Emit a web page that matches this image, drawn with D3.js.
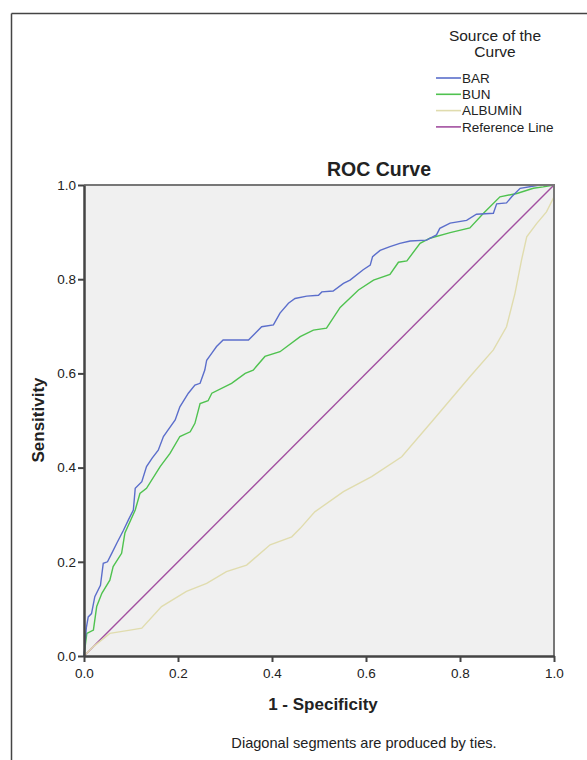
<!DOCTYPE html>
<html>
<head>
<meta charset="utf-8">
<script src="https://cdn.jsdelivr.net/npm/d3@7"></script>
<style>
  body { margin: 0; background: #fff; }
  svg text { font-family: "Liberation Sans", Arial, sans-serif; fill: #222; }
</style>
</head>
<body>
<div id="vis-container"></div>
<script>
// width and height
const w = 587
const h = 760
const margin = {left: 84, right: 33, top: 185, bottom: 104}

// ROC curves (1 - specificity, sensitivity)
const barX = [0, 0.005, 0.009, 0.016, 0.023, 0.035, 0.041, 0.05, 0.059, 0.07, 0.084, 0.095, 0.105, 0.109, 0.123, 0.133, 0.145, 0.158, 0.169, 0.176, 0.194, 0.204, 0.222, 0.236, 0.247, 0.257, 0.261, 0.272, 0.282, 0.296, 0.35, 0.378, 0.403, 0.417, 0.435, 0.449, 0.474, 0.499, 0.506, 0.53, 0.552, 0.566, 0.594, 0.609, 0.614, 0.63, 0.651, 0.672, 0.694, 0.729, 0.75, 0.757, 0.779, 0.814, 0.835, 0.871, 0.878, 0.899, 0.91, 0.928, 0.97, 1]
const barY = [0, 0.06, 0.083, 0.09, 0.126, 0.15, 0.197, 0.2, 0.218, 0.24, 0.267, 0.29, 0.31, 0.356, 0.37, 0.402, 0.42, 0.437, 0.466, 0.476, 0.501, 0.529, 0.558, 0.575, 0.579, 0.607, 0.628, 0.643, 0.657, 0.671, 0.671, 0.699, 0.703, 0.728, 0.749, 0.759, 0.764, 0.766, 0.773, 0.775, 0.791, 0.798, 0.82, 0.83, 0.848, 0.861, 0.869, 0.876, 0.881, 0.883, 0.894, 0.908, 0.919, 0.925, 0.938, 0.94, 0.96, 0.962, 0.975, 0.993, 1, 1]

const bunX = [0, 0.006, 0.02, 0.027, 0.038, 0.055, 0.062, 0.08, 0.087, 0.109, 0.119, 0.133, 0.162, 0.183, 0.204, 0.226, 0.236, 0.247, 0.264, 0.272, 0.314, 0.343, 0.36, 0.385, 0.417, 0.46, 0.488, 0.516, 0.545, 0.584, 0.616, 0.651, 0.669, 0.687, 0.715, 0.736, 0.779, 0.821, 0.85, 0.885, 0.921, 0.956, 0.977, 1]
const bunY = [0, 0.048, 0.055, 0.105, 0.133, 0.161, 0.19, 0.218, 0.261, 0.31, 0.345, 0.356, 0.402, 0.43, 0.466, 0.476, 0.494, 0.536, 0.542, 0.558, 0.579, 0.6, 0.607, 0.636, 0.646, 0.678, 0.692, 0.696, 0.74, 0.777, 0.798, 0.81, 0.836, 0.839, 0.876, 0.887, 0.899, 0.909, 0.94, 0.975, 0.982, 0.993, 0.996, 1]

const albX = [0, 0.02, 0.055, 0.098, 0.123, 0.165, 0.218, 0.261, 0.303, 0.346, 0.396, 0.442, 0.46, 0.491, 0.552, 0.612, 0.676, 0.743, 0.821, 0.871, 0.899, 0.917, 0.931, 0.942, 0.963, 0.984, 1, 1]
const albY = [0, 0.02, 0.048, 0.055, 0.059, 0.105, 0.137, 0.154, 0.179, 0.193, 0.236, 0.253, 0.271, 0.306, 0.349, 0.381, 0.423, 0.501, 0.593, 0.65, 0.699, 0.77, 0.841, 0.89, 0.918, 0.943, 0.975, 1]

const refX = [0, 1]
const refY = [0, 1]

const seriesNames = ["BAR", "BUN", "ALBUMİN", "Reference Line"]
const seriesColors = ["#5b6ecb", "#4fc24f", "#e0dcae", "#a24fa0"]
const tickValues = [0, 0.2, 0.4, 0.6, 0.8, 1.0]

const svg = d3.select("#vis-container")
    .append("svg")
    .attr("width", w)
    .attr("height", h)

// outer frame (only top and left visible)
svg.append("line").attr("x1", 11.5).attr("x2", w).attr("y1", 13.5).attr("y2", 13.5)
    .attr("stroke", "#444").attr("stroke-width", 1.5)
svg.append("line").attr("x1", 11.5).attr("x2", 11.5).attr("y1", 13.5).attr("y2", h)
    .attr("stroke", "#444").attr("stroke-width", 1.5)

// scale function
const xScale = d3.scaleLinear().domain([0, 1]).range([margin.left, w - margin.right])
const yScale = d3.scaleLinear().domain([0, 1]).range([h - margin.bottom, margin.top])

// plot background
svg.append("rect")
    .attr("x", xScale(0)).attr("y", yScale(1))
    .attr("width", xScale(1) - xScale(0))
    .attr("height", yScale(0) - yScale(1))
    .attr("fill", "#f0f0f0")

const line = d3.line().x(d => xScale(d[0])).y(d => yScale(d[1]))

const curves = [
    d3.zip(barX, barY),
    d3.zip(bunX, bunY),
    d3.zip(albX, albY),
    d3.zip(refX, refY)
]

// draw in reverse so BAR sits on top
const drawOrder = [3, 2, 1, 0]
drawOrder.forEach(i => {
    svg.append("path")
        .datum(curves[i])
        .attr("fill", "none")
        .attr("stroke", seriesColors[i])
        .attr("stroke-width", 1.4)
        .attr("d", line)
})

// plot border top / right
svg.append("path")
    .attr("d", `M${xScale(0)},${yScale(1)}H${xScale(1)}V${yScale(0)}`)
    .attr("fill", "none").attr("stroke", "#777").attr("stroke-width", 2)

const fmt = d3.format(".1f")

// x axis
const xAxis = svg.append("g")
    .attr("transform", "translate(0," + yScale(0) + ")")
    .call(d3.axisBottom(xScale).tickValues(tickValues).tickFormat(fmt).tickSize(6).tickSizeOuter(0))
xAxis.select(".domain").attr("stroke", "#444").attr("stroke-width", 2.5)
xAxis.selectAll(".tick line").attr("stroke", "#444").attr("stroke-width", 2)
xAxis.selectAll(".tick text").attr("font-size", 13.5).attr("dy", "0.95em").style("fill", "#222")

// y axis
const yAxis = svg.append("g")
    .attr("transform", "translate(" + xScale(0) + ",0)")
    .call(d3.axisLeft(yScale).tickValues(tickValues).tickFormat(fmt).tickSize(6).tickSizeOuter(0))
yAxis.select(".domain").attr("stroke", "#444").attr("stroke-width", 2.5)
yAxis.selectAll(".tick line").attr("stroke", "#444").attr("stroke-width", 2)
yAxis.selectAll(".tick text").attr("font-size", 13.5).attr("x", -8).style("fill", "#222")

// title
svg.append("text")
    .attr("x", 379)
    .attr("y", 176)
    .attr("text-anchor", "middle")
    .attr("font-size", 19.5)
    .attr("font-weight", "bold")
    .text("ROC Curve")

// axis labels
svg.append("text")
    .attr("x", 323)
    .attr("y", 710)
    .attr("text-anchor", "middle")
    .attr("font-size", 17)
    .attr("font-weight", "bold")
    .text("1 - Specificity")

svg.append("text")
    .attr("transform", "translate(44,420) rotate(-90)")
    .attr("text-anchor", "middle")
    .attr("font-size", 17)
    .attr("font-weight", "bold")
    .text("Sensitivity")

// footnote
svg.append("text")
    .attr("x", 364)
    .attr("y", 748)
    .attr("text-anchor", "middle")
    .attr("font-size", 14.6)
    .text("Diagonal segments are produced by ties.")

// legend
svg.append("text")
    .attr("x", 495).attr("y", 41)
    .attr("text-anchor", "middle").attr("font-size", 15.5)
    .text("Source of the")
svg.append("text")
    .attr("x", 495).attr("y", 57)
    .attr("text-anchor", "middle").attr("font-size", 15.5)
    .text("Curve")

const legend = svg.selectAll(".legend")
    .data(seriesNames)
    .enter().append("g")
    .attr("class", "legend")
    .attr("transform", (d, i) => "translate(0," + (78 + i * 16.3) + ")")

legend.append("line")
    .attr("x1", 436).attr("x2", 461)
    .attr("stroke", (d, i) => seriesColors[i])
    .attr("stroke-width", 1.6)

legend.append("text")
    .attr("x", 462)
    .attr("dy", "0.35em")
    .attr("font-size", 13.5)
    .text(d => d)
</script>
</body>
</html>
